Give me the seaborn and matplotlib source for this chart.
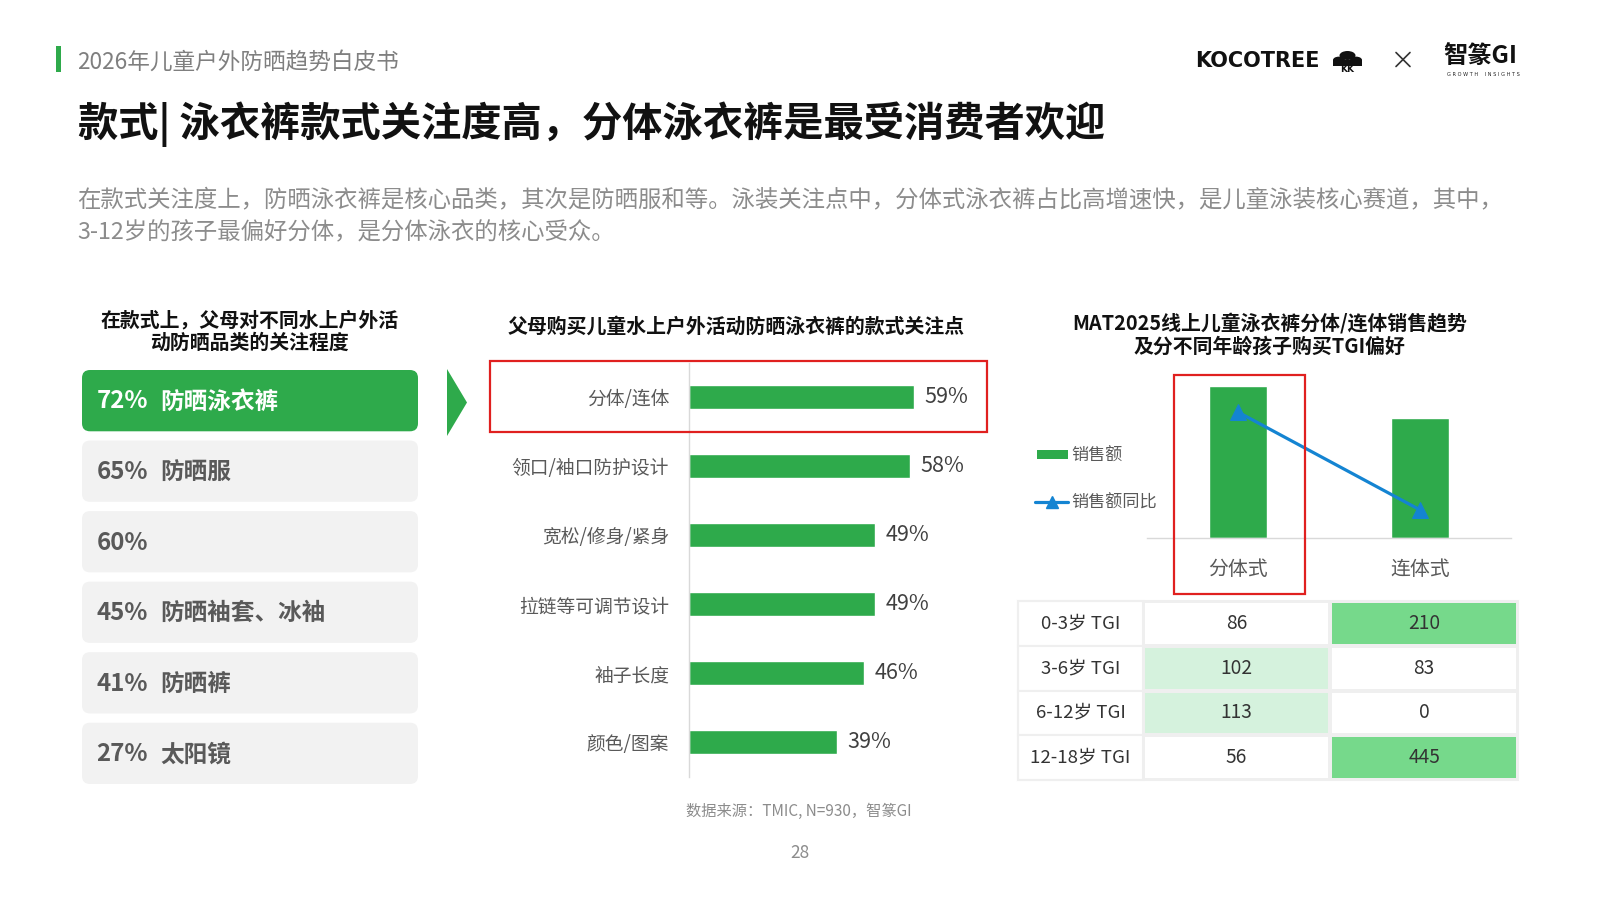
import numpy as np
import pandas as pd
import matplotlib
matplotlib.use("Agg")
import matplotlib.pyplot as plt
from matplotlib.patches import FancyBboxPatch, Rectangle, Polygon, Circle
from matplotlib.colors import ListedColormap
from matplotlib.lines import Line2D
import seaborn as sns

# ---------------- data ----------------
header_title = "2026年儿童户外防晒趋势白皮书"
main_title = "款式| 泳衣裤款式关注度高，分体泳衣裤是最受消费者欢迎"
desc_lines = [
    "在款式关注度上，防晒泳衣裤是核心品类，其次是防晒服和等。泳装关注点中，分体式泳衣裤占比高增速快，是儿童泳装核心赛道，其中，",
    "3-12岁的孩子最偏好分体，是分体泳衣的核心受众。",
]

left_title = "在款式上，父母对不同水上户外活\n动防晒品类的关注程度"
left_pcts = [72, 65, 60, 45, 41, 27]
left_cats = ["防晒泳衣裤", "防晒服", "", "防晒袖套、冰袖", "防晒裤", "太阳镜"]

mid_title = "父母购买儿童水上户外活动防晒泳衣裤的款式关注点"
mid_cats = ["分体/连体", "领口/袖口防护设计", "宽松/修身/紧身", "拉链等可调节设计", "袖子长度", "颜色/图案"]
mid_vals = [59, 58, 49, 49, 46, 39]

right_title = "MAT2025线上儿童泳衣裤分体/连体销售趋势\n及分不同年龄孩子购买TGI偏好"
style_cats = ["分体式", "连体式"]
sales_index = [100, 79]        # relative sales (bar heights)
sales_yoy = [40, -6.5]         # relative YoY (line)
legend_labels = ["销售额", "销售额同比"]

tgi_rows = ["0-3岁 TGI", "3-6岁 TGI", "6-12岁 TGI", "12-18岁 TGI"]
tgi_split = [86, 102, 113, 56]
tgi_onepiece = [210, 83, 0, 445]

source_text = "数据来源：TMIC, N=930，智篆GI"
page_no = "28"

# ---------------- style ----------------
GREEN = "#2eaa4b"
BLUE = "#1484d2"
RED = "#e0201f"
GRAY_TXT = "#595959"

sns.set_theme(style="white")
plt.rcParams["font.family"] = ["Noto Sans CJK SC", "DejaVu Sans"]
plt.rcParams["axes.unicode_minus"] = False

W, H = 1600, 900
fig = plt.figure(figsize=(16, 9), dpi=100)
fig.patch.set_facecolor("white")


def fx(x):
    return x / W


def fy(y):
    return 1 - y / H


def axes_px(x0, y0, x1, y1):
    return fig.add_axes([fx(x0), fy(y1), (x1 - x0) / W, (y1 - y0) / H])


# ---------------- header ----------------
fig.add_artist(Rectangle((fx(56.5), fy(72)), 4 / W, 26 / H, transform=fig.transFigure,
                         color=GREEN, lw=0))
fig.text(fx(77.5), fy(62), header_title, fontsize=16.3, color="#7f7f7f", va="center", ha="left")
fig.text(fx(78), fy(124.5), main_title, fontsize=29, fontweight="bold", color="#111111",
         va="center", ha="left")
for i, line in enumerate(desc_lines):
    fig.text(fx(77.5), fy(199.5 + i * 33.6), line, fontsize=16.85, color="#8c8c8c",
             va="center", ha="left")

# logos
fig.text(fx(1195.5), fy(61), "KOCOTREE", fontsize=15, fontweight="heavy",
         family="DejaVu Sans", color="#111111", va="center", ha="left")
for (cx, cy, r) in [(1347.5, 55.5, 8), (1339.0, 60.0, 6), (1356.0, 60.0, 6)]:
    fig.add_artist(Circle((fx(cx), fy(cy)), r / W, transform=fig.transFigure, color="#111111", lw=0))
fig.add_artist(Rectangle((fx(1333), fy(66)), 29 / W, 6 / H, transform=fig.transFigure,
                         color="#111111", lw=0))
fig.text(fx(1347.5), fy(69.5), "KK", fontsize=6.5, fontweight="bold", family="DejaVu Sans",
         color="#111111", va="center", ha="center")
fig.add_artist(Line2D([fx(1396), fx(1410)], [fy(52.5), fy(66.5)], color="#333333", lw=1.2))
fig.add_artist(Line2D([fx(1396), fx(1410)], [fy(66.5), fy(52.5)], color="#333333", lw=1.2))
fig.text(fx(1443), fy(56), "智篆GI", fontsize=17.5, fontweight="bold", color="#111111",
         va="center", ha="left")
fig.text(fx(1483), fy(74), "G R O W T H    I N S I G H T S", fontsize=3.6,
         family="DejaVu Sans", color="#222222", va="center", ha="center")

# ---------------- left panel ----------------
fig.text(fx(249.5), fy(331), left_title, fontsize=14.3, fontweight="bold", color="#111111",
         va="center", ha="center", linespacing=1.08)

ax_l = axes_px(82, 370, 418, 784)
ax_l.set_xlim(0, 336)
ax_l.set_ylim(414, 0)
ax_l.axis("off")
row_gap = (414 - 61.3) / (len(left_pcts) - 1)
for i, (p, c) in enumerate(zip(left_pcts, left_cats)):
    top = i * row_gap
    face = GREEN if i == 0 else "#f2f2f2"
    ax_l.add_patch(FancyBboxPatch((0, top), 336, 61.3, boxstyle="round,pad=0,rounding_size=8",
                                  fc=face, ec="none"))
    tc = "white" if i == 0 else GRAY_TXT
    ax_l.text(14.5, top + 31.5, f"{p}%", fontsize=17.3, fontweight="bold", color=tc,
              va="center", ha="left")
    if c:
        ax_l.text(78.5, top + 31.5, c, fontsize=17, fontweight="bold", color=tc,
                  va="center", ha="left")

fig.add_artist(Polygon([(fx(447), fy(369)), (fx(447), fy(436)), (fx(467), fy(402.5))],
                       closed=True, transform=fig.transFigure, color=GREEN, lw=0))

# ---------------- middle bar chart ----------------
fig.text(fx(736.5), fy(326), mid_title, fontsize=14.3, fontweight="bold", color="#111111",
         va="center", ha="center")

px_per_pct = 3.815
ax_m = axes_px(688.5, 362.7, 688.5 + 70 * px_per_pct, 776.7)
df_mid = pd.DataFrame({"cat": mid_cats, "val": mid_vals})
sns.barplot(data=df_mid, x="val", y="cat", color=GREEN, width=0.34, saturation=1, ax=ax_m)
ax_m.set_xlim(0, 70)
ax_m.set_ylim(len(mid_cats) - 0.5, -0.5)
ax_m.set_xlabel("")
ax_m.set_ylabel("")
ax_m.set_xticks([])
sns.despine(ax=ax_m, bottom=True)
ax_m.spines["left"].set_color("#d9d9d9")
ax_m.spines["left"].set_linewidth(1.0)
ax_m.tick_params(axis="y", length=0, pad=14, labelsize=13.5, labelcolor=GRAY_TXT)
ax_m.set_facecolor("none")
ax_m.bar_label(ax_m.containers[0], fmt="%d%%", padding=7.5, fontsize=15.5, color="#404040")

fig.add_artist(Rectangle((fx(490), fy(432.3)), (986.7 - 490) / W, (432.3 - 361) / H,
                         transform=fig.transFigure, fill=False, ec=RED, lw=1.6, zorder=10))

# ---------------- right chart ----------------
fig.text(fx(1269.5), fy(335), right_title, fontsize=14.3, fontweight="bold", color="#111111",
         va="center", ha="center", linespacing=1.12)

ax_r = axes_px(1147, 370, 1511, 538.3)
df_r = pd.DataFrame({"style": style_cats, "sales": sales_index, "yoy": sales_yoy})
sns.barplot(data=df_r, x="style", y="sales", color=GREEN, width=0.314, saturation=1, ax=ax_r)
ax_r.set_xlim(-0.5, 1.5)
ax_r.set_ylim(0, 100 * 168.3 / 152.6)
ax_r.set_xlabel("")
ax_r.set_ylabel("")
ax_r.set_yticks([])
for s in ["top", "right", "left"]:
    ax_r.spines[s].set_visible(False)
ax_r.spines["bottom"].set_color("#d9d9d9")
ax_r.spines["bottom"].set_linewidth(1.0)
ax_r.tick_params(axis="x", length=0, pad=15, labelsize=14.3, labelcolor=GRAY_TXT)
ax_r.set_facecolor("none")

ax2 = ax_r.twinx()
sns.lineplot(data=df_r, x="style", y="yoy", sort=False, color=BLUE, lw=2.3, marker="^",
             markersize=11, markeredgecolor=BLUE, ax=ax2)
ax2.set_ylim(-20, 60)
ax2.set_xlim(-0.5, 1.5)
ax2.set_ylabel("")
ax2.set_yticks([])
for s in ax2.spines.values():
    s.set_visible(False)

# legend (manual)
fig.add_artist(Rectangle((fx(1036.7), fy(459.3)), (1068.3 - 1036.7) / W, 9.3 / H,
                         transform=fig.transFigure, color=GREEN, lw=0))
fig.text(fx(1071), fy(456), legend_labels[0], fontsize=12.3, color=GRAY_TXT, va="center", ha="left")
fig.add_artist(Line2D([fx(1035), fx(1068)], [fy(502.3), fy(502.3)], color=BLUE, lw=2.3,
                      transform=fig.transFigure))
fig.add_artist(Line2D([fx(1052)], [fy(502.3)], marker="^", markersize=9, color=BLUE,
                      transform=fig.transFigure))
fig.text(fx(1071), fy(503), legend_labels[1], fontsize=12.3, color=GRAY_TXT, va="center", ha="left")

fig.add_artist(Rectangle((fx(1174.3), fy(594)), (1305.3 - 1174.3) / W, (594 - 375.3) / H,
                         transform=fig.transFigure, fill=False, ec=RED, lw=1.6, zorder=10))

# ---------------- TGI table ----------------
def level(v):
    if v > 200:
        return 2
    if v > 100:
        return 1
    return 0


values = np.array([tgi_split, tgi_onepiece]).T
levels = np.vectorize(level)(values)
ax_t = axes_px(1142.7, 601, 1518, 780)
sns.heatmap(levels, annot=values, fmt="d",
            cmap=ListedColormap(["#ffffff", "#d5f2dd", "#76d98b"]),
            vmin=-0.5, vmax=2.5, cbar=False, linewidths=1.5, linecolor="#efefef",
            xticklabels=False, yticklabels=False, ax=ax_t,
            annot_kws=dict(fontsize=13.8, color="#333333"))
col_w = (1142.7 - 1018.3) / ((1518 - 1142.7) / 2)
for i, lab in enumerate(tgi_rows):
    ax_t.add_patch(Rectangle((-col_w, i), col_w, 1, fc="white", ec="#efefef", lw=1.5,
                             clip_on=False))
    ax_t.text(-col_w / 2, i + 0.5, lab, fontsize=13.4, color="#333333", va="center", ha="center")
ax_t.add_patch(Rectangle((-col_w, 0), 2 + col_w, len(tgi_rows), fill=False, ec="#efefef",
                         lw=1.5, clip_on=False))

# ---------------- footer ----------------
fig.text(fx(799), fy(811), source_text, fontsize=11, color="#8c8c8c", va="center", ha="center")
fig.text(fx(800), fy(852.5), page_no, fontsize=12.5, color="#8c8c8c", va="center", ha="center")

fig.savefig("out.png", dpi=100, facecolor="white")
